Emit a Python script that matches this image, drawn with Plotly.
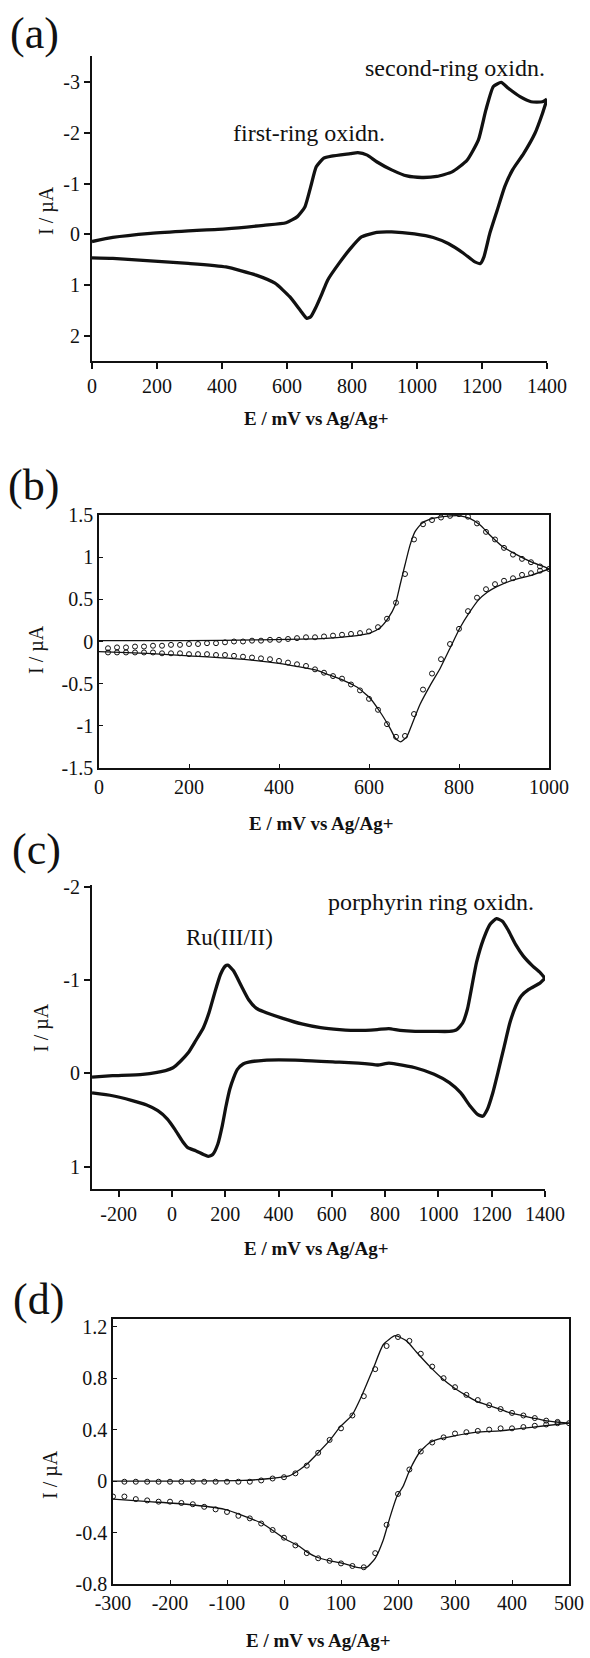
import plotly.graph_objects as go

W, H = 590, 1658

# ---------------- data ----------------
# (a) CV, two-ring oxidation
a_fwd_x = [0, 64, 180, 296, 412, 528, 597, 632, 655, 673, 690, 713, 737, 795, 818, 847, 876, 922, 969, 1015, 1061, 1108, 1154, 1189, 1212, 1235, 1259, 1282, 1317, 1351, 1386, 1400]
a_fwd_y = [0.14, 0.06, -0.02, -0.07, -0.11, -0.18, -0.23, -0.35, -0.54, -0.94, -1.33, -1.50, -1.54, -1.59, -1.61, -1.56, -1.43, -1.27, -1.15, -1.12, -1.14, -1.23, -1.46, -1.86, -2.45, -2.91, -2.99, -2.87, -2.71, -2.61, -2.61, -2.66]
a_rev_x = [1400, 1386, 1363, 1328, 1294, 1270, 1247, 1224, 1206, 1195, 1178, 1143, 1096, 1050, 992, 922, 876, 829, 795, 760, 725, 708, 690, 673, 661, 644, 609, 563, 505, 412, 296, 180, 64, 0]
a_rev_y = [-2.66, -2.38, -1.99, -1.59, -1.27, -0.94, -0.48, -0.02, 0.44, 0.57, 0.54, 0.37, 0.18, 0.06, -0.01, -0.05, -0.04, 0.05, 0.28, 0.57, 0.90, 1.16, 1.42, 1.62, 1.65, 1.52, 1.23, 0.96, 0.80, 0.64, 0.57, 0.52, 0.47, 0.46]
a_xticks = [0, 200, 400, 600, 800, 1000, 1200, 1400]
a_yticks = [-3, -2, -1, 0, 1, 2]
a_ylabels = ["-3", "-2", "-1", "0", "1", "2"]

# (b) first-ring oxidation: fit (line) and data (circles)
b_fwd_x = [0, 192, 358, 480, 513, 558, 602, 624, 643, 658, 669, 680, 691, 702, 717, 736, 765, 802, 824, 847, 869, 898, 928, 958, 987, 1000]
b_fwd_y = [0.01, 0.01, 0.02, 0.03, 0.04, 0.06, 0.10, 0.16, 0.28, 0.43, 0.67, 0.91, 1.14, 1.30, 1.40, 1.45, 1.48, 1.49, 1.46, 1.38, 1.26, 1.12, 1.03, 0.95, 0.89, 0.86]
b_rev_x = [1000, 958, 921, 884, 862, 843, 824, 802, 780, 758, 736, 713, 695, 684, 670, 659, 647, 624, 602, 573, 543, 513, 483, 400, 317, 200, 108, 0]
b_rev_y = [0.86, 0.78, 0.73, 0.65, 0.58, 0.49, 0.35, 0.16, -0.08, -0.32, -0.52, -0.75, -0.99, -1.13, -1.19, -1.15, -1.03, -0.83, -0.67, -0.54, -0.46, -0.40, -0.34, -0.26, -0.21, -0.17, -0.14, -0.12]
b_circ_fwd_x = [20, 40, 60, 80, 100, 120, 140, 160, 180, 200, 220, 240, 260, 280, 300, 320, 340, 360, 380, 400, 420, 440, 460, 480, 500, 520, 540, 560, 580, 600, 620, 640, 660, 680, 700, 720, 740, 760, 780, 800, 820, 840, 860, 880, 900, 920, 940, 960, 980, 1000]
b_circ_fwd_y = [-0.08, -0.07, -0.07, -0.06, -0.06, -0.05, -0.05, -0.04, -0.04, -0.03, -0.03, -0.02, -0.02, -0.01, 0.00, 0.00, 0.01, 0.01, 0.02, 0.02, 0.03, 0.04, 0.05, 0.05, 0.06, 0.07, 0.08, 0.09, 0.10, 0.12, 0.17, 0.27, 0.46, 0.80, 1.21, 1.39, 1.44, 1.47, 1.49, 1.51, 1.48, 1.40, 1.30, 1.21, 1.11, 1.03, 0.98, 0.94, 0.89, 0.86]
b_circ_rev_x = [980, 960, 940, 920, 900, 880, 860, 840, 820, 800, 780, 760, 740, 720, 700, 680, 660, 640, 620, 600, 580, 560, 540, 520, 500, 480, 460, 440, 420, 400, 380, 360, 340, 320, 300, 280, 260, 240, 220, 200, 180, 160, 140, 120, 100, 80, 60, 40, 20]
b_circ_rev_y = [0.84, 0.81, 0.79, 0.75, 0.72, 0.68, 0.62, 0.52, 0.36, 0.15, -0.03, -0.21, -0.38, -0.57, -0.86, -1.12, -1.13, -0.98, -0.81, -0.68, -0.58, -0.51, -0.44, -0.41, -0.37, -0.33, -0.29, -0.27, -0.25, -0.23, -0.21, -0.20, -0.19, -0.18, -0.17, -0.16, -0.16, -0.15, -0.15, -0.15, -0.14, -0.14, -0.14, -0.13, -0.13, -0.13, -0.13, -0.13, -0.13]
b_xticks = [0, 200, 400, 600, 800, 1000]
b_yticks = [-1.5, -1, -0.5, 0, 0.5, 1, 1.5]
b_ylabels = ["-1.5", "-1", "-0.5", "0", "0.5", "1", "1.5"]

# (c) Ru(III/II) and porphyrin ring oxidation
c_fwd_x = [-300, -223, -110, -24, 4, 32, 61, 89, 118, 139, 160, 182, 200, 210, 231, 260, 288, 316, 345, 416, 487, 558, 629, 700, 771, 814, 856, 913, 984, 1041, 1069, 1091, 1109, 1126, 1143, 1169, 1194, 1218, 1240, 1261, 1290, 1318, 1354, 1382, 1400]
c_fwd_y = [0.04, 0.025, 0.01, -0.03, -0.06, -0.13, -0.22, -0.35, -0.49, -0.65, -0.86, -1.06, -1.15, -1.16, -1.10, -0.94, -0.79, -0.70, -0.66, -0.59, -0.53, -0.49, -0.47, -0.46, -0.47, -0.48, -0.46, -0.45, -0.45, -0.45, -0.47, -0.54, -0.69, -0.94, -1.19, -1.44, -1.60, -1.66, -1.63, -1.54, -1.38, -1.26, -1.15, -1.08, -1.02]
c_rev_x = [1400, 1382, 1339, 1311, 1290, 1268, 1247, 1226, 1204, 1183, 1166, 1147, 1119, 1084, 1041, 984, 913, 842, 814, 771, 743, 700, 629, 487, 345, 288, 267, 245, 231, 217, 203, 189, 172, 153, 136, 118, 89, 61, 40, 11, -17, -53, -95, -152, -223, -300]
c_rev_y = [-1.02, -0.97, -0.90, -0.83, -0.72, -0.54, -0.29, -0.04, 0.21, 0.39, 0.46, 0.44, 0.35, 0.21, 0.10, 0.01, -0.06, -0.10, -0.11, -0.09, -0.10, -0.11, -0.12, -0.14, -0.14, -0.12, -0.10, -0.04, 0.05, 0.17, 0.35, 0.56, 0.76, 0.87, 0.89, 0.87, 0.83, 0.80, 0.73, 0.60, 0.49, 0.40, 0.34, 0.29, 0.24, 0.21]
c_xticks = [-200, 0, 200, 400, 600, 800, 1000, 1200, 1400]
c_yticks = [-2, -1, 0, 1]
c_ylabels = ["-2", "-1", "0", "1"]

# (d) Ru(III/II) couple: fit (line) and data (circles)
d_fwd_x = [-300, -171, -71, -24, 9, 28, 40, 60, 81, 98, 119, 136, 157, 174, 195, 215, 233, 256, 277, 297, 318, 338, 358, 379, 397, 417, 437, 458, 475, 500]
d_fwd_y = [0.0, 0.0, 0.005, 0.02, 0.04, 0.09, 0.13, 0.22, 0.32, 0.42, 0.51, 0.66, 0.88, 1.06, 1.13, 1.09, 1.00, 0.89, 0.80, 0.73, 0.67, 0.62, 0.59, 0.56, 0.53, 0.51, 0.49, 0.47, 0.46, 0.45]
d_rev_x = [500, 458, 417, 379, 338, 297, 274, 256, 239, 221, 209, 198, 186, 174, 160, 145, 128, 104, 81, 57, 40, 28, 2, -38, -71, -104, -171, -237, -300]
d_rev_y = [0.45, 0.43, 0.41, 0.39, 0.38, 0.35, 0.33, 0.30, 0.23, 0.09, -0.04, -0.12, -0.28, -0.46, -0.60, -0.67, -0.67, -0.64, -0.62, -0.59, -0.55, -0.51, -0.45, -0.33, -0.27, -0.22, -0.18, -0.16, -0.14]
d_circ_fwd_x = [-280, -260, -240, -220, -200, -180, -160, -140, -120, -100, -80, -60, -40, -20, 0, 20, 40, 60, 80, 100, 120, 140, 160, 180, 200, 220, 240, 260, 280, 300, 320, 340, 360, 380, 400, 420, 440, 460, 480, 500]
d_circ_fwd_y = [-0.005, -0.005, -0.005, -0.005, -0.005, -0.005, -0.005, -0.005, -0.005, -0.005, -0.005, -0.005, 0.005, 0.02, 0.03, 0.06, 0.12, 0.22, 0.32, 0.41, 0.51, 0.66, 0.87, 1.05, 1.12, 1.09, 0.99, 0.89, 0.80, 0.73, 0.67, 0.63, 0.59, 0.56, 0.53, 0.51, 0.49, 0.47, 0.46, 0.45]
d_circ_rev_x = [480, 460, 440, 420, 400, 380, 360, 340, 320, 300, 280, 260, 240, 220, 200, 180, 160, 140, 120, 100, 80, 60, 40, 20, 0, -20, -40, -60, -80, -100, -120, -140, -160, -180, -200, -220, -240, -260, -280, -300]
d_circ_rev_y = [0.45, 0.44, 0.43, 0.42, 0.41, 0.41, 0.40, 0.39, 0.38, 0.37, 0.34, 0.30, 0.23, 0.09, -0.10, -0.34, -0.56, -0.67, -0.66, -0.64, -0.62, -0.60, -0.56, -0.50, -0.44, -0.38, -0.33, -0.29, -0.27, -0.24, -0.22, -0.20, -0.18, -0.17, -0.16, -0.16, -0.15, -0.14, -0.12, -0.12]
d_xticks = [-300, -200, -100, 0, 100, 200, 300, 400, 500]
d_yticks = [-0.8, -0.4, 0, 0.4, 0.8, 1.2]
d_ylabels = ["-0.8", "-0.4", "0", "0.4", "0.8", "1.2"]

x_title = "E / mV vs Ag/Ag+"
y_title = "I / µA"
panel_labels = ["(a)", "(b)", "(c)", "(d)"]

# ---------------- layout helpers ----------------
FONT = "Liberation Serif, Times New Roman, serif"
INK = "#111111"

def px_x(x):
    return x / W

def px_y(y):
    return 1 - y / H

fig = go.Figure()

def line_trace(x, y, ax, width):
    fig.add_trace(go.Scatter(x=x, y=y, mode="lines", xaxis=ax[0], yaxis=ax[1],
                             line=dict(color=INK, width=width, shape="spline", smoothing=0.5),
                             showlegend=False, hoverinfo="skip"))

def circ_trace(x, y, ax):
    fig.add_trace(go.Scatter(x=x, y=y, mode="markers", xaxis=ax[0], yaxis=ax[1],
                             marker=dict(symbol="circle-open", size=5, color=INK, line=dict(width=1, color=INK)),
                             showlegend=False, hoverinfo="skip"))

line_trace(a_fwd_x, a_fwd_y, ("x", "y"), 3.3)
line_trace(a_rev_x, a_rev_y, ("x", "y"), 3.3)
line_trace(b_fwd_x, b_fwd_y, ("x2", "y2"), 1.3)
line_trace(b_rev_x, b_rev_y, ("x2", "y2"), 1.3)
circ_trace(b_circ_fwd_x, b_circ_fwd_y, ("x2", "y2"))
circ_trace(b_circ_rev_x, b_circ_rev_y, ("x2", "y2"))
line_trace(c_fwd_x, c_fwd_y, ("x3", "y3"), 3.3)
line_trace(c_rev_x, c_rev_y, ("x3", "y3"), 3.3)
line_trace(d_fwd_x, d_fwd_y, ("x4", "y4"), 1.3)
line_trace(d_rev_x, d_rev_y, ("x4", "y4"), 1.3)
circ_trace(d_circ_fwd_x, d_circ_fwd_y, ("x4", "y4"))
circ_trace(d_circ_rev_x, d_circ_rev_y, ("x4", "y4"))

tickfont = dict(family=FONT, size=20, color=INK)

def axes(xdom, ydom, xr, yr, xt, yt, ytxt, anchor_x, anchor_y, boxed):
    common = dict(showline=True, linecolor=INK, showgrid=False, zeroline=False,
                  tickfont=tickfont, fixedrange=True, automargin=False, tickcolor=INK)
    if boxed:
        common.update(mirror=True, linewidth=1.5, ticks="inside", ticklen=4, tickwidth=1)
    else:
        common.update(linewidth=2, ticks="outside", ticklen=6, tickwidth=2)
    xa = dict(domain=[px_x(xdom[0]), px_x(xdom[1])], range=xr, tickvals=xt,
              ticktext=[str(v) for v in xt], anchor=anchor_y, **common)
    ya = dict(domain=[px_y(ydom[1]), px_y(ydom[0])], range=yr, tickvals=yt, ticktext=ytxt,
              anchor=anchor_x, **common)
    return xa, ya

xa1, ya1 = axes((92, 547), (56, 361), [0, 1400], [2.49, -3.51], a_xticks, a_yticks, a_ylabels, "x", "y", False)
xa2, ya2 = axes((99, 549), (515, 768), [0, 1000], [-1.5, 1.5], b_xticks, b_yticks, b_ylabels, "x2", "y2", True)
xa3, ya3 = axes((92, 545), (885, 1189), [-300, 1400], [1.24, -2.02], c_xticks, c_yticks, c_ylabels, "x3", "y3", False)
xa4, ya4 = axes((113, 569), (1319, 1584), [-300, 500], [-0.8, 1.26], d_xticks, d_yticks, d_ylabels, "x4", "y4", True)

anns = []
def ann(text, x, y, size, bold=False, angle=0):
    anns.append(dict(text=("<b>%s</b>" % text) if bold else text, x=px_x(x), y=px_y(y),
                     xref="paper", yref="paper", showarrow=False, textangle=angle,
                     font=dict(family=FONT, size=size, color=INK),
                     xanchor="center", yanchor="middle"))

for lab, (lx, ly) in zip(panel_labels, [(34, 33), (33, 486), (36, 849), (38, 1299)]):
    ann(lab, lx, ly, 44)
for (tx, ty) in [(316, 418), (322, 823), (316, 1248), (318, 1640)]:
    ann(x_title, tx, ty, 19, bold=True)
for (tx, ty) in [(47, 210), (37, 650), (41, 1028), (50, 1475)]:
    ann(y_title, tx, ty, 20, angle=-90)
ann("second-ring oxidn.", 455, 68, 24)
ann("first-ring oxidn.", 309, 133, 24)
ann("porphyrin ring oxidn.", 431, 902, 24)
ann("Ru(III/II)", 229, 937, 23)

fig.update_layout(template="none", width=W, height=H, margin=dict(l=0, r=0, t=0, b=0, pad=0),
                  paper_bgcolor="white", plot_bgcolor="white",
                  xaxis=xa1, yaxis=ya1, xaxis2=xa2, yaxis2=ya2,
                  xaxis3=xa3, yaxis3=ya3, xaxis4=xa4, yaxis4=ya4,
                  annotations=anns, showlegend=False)

fig.write_html("out.html")
